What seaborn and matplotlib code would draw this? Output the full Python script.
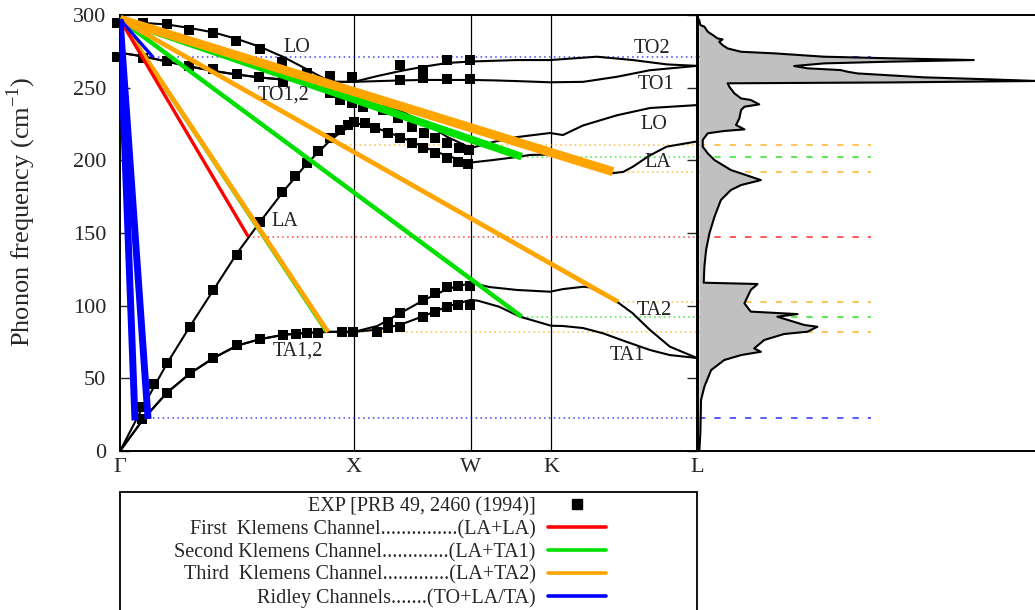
import matplotlib
matplotlib.use("Agg")
import matplotlib.pyplot as plt
import seaborn as sns
from matplotlib.lines import Line2D
from matplotlib.patches import Rectangle

# ---------------- data ----------------
kpoint_labels = ["Γ", "X", "W", "K", "L"]
kpoint_pos = [0.0, 1.0, 1.5, 1.842, 2.466]

q_gx = [0, 0.1, 0.2, 0.3, 0.4, 0.5, 0.6, 0.7, 0.8, 0.9, 1.0]

ta1_q = q_gx + [1.1, 1.2, 1.3, 1.4, 1.5, 1.53, 1.62, 1.71, 1.842, 1.893, 1.979, 2.064, 2.167, 2.265, 2.35, 2.466]
ta1_f = [0, 22, 40, 53.5, 64, 72.5, 77, 80, 81.3, 82, 82,
         83.5, 87, 93, 99.5, 104, 103.4, 99.3, 92.4, 86.2, 86, 84.6, 81, 75, 69.5, 66, 64]

ta2_q = q_gx + [1.1, 1.2, 1.3, 1.4, 1.5, 1.58, 1.697, 1.838, 1.893, 1.979, 2.009, 2.124, 2.19, 2.265, 2.35, 2.466]
ta2_f = [0, 22, 40, 53.5, 64, 72.5, 77, 80, 81.3, 82, 82,
         86, 95, 104, 111.5, 115.6, 112.8, 110.8, 109.6, 111.4, 113, 112.6, 102.7, 94.9, 83.3, 71.8, 64]

la_q = [0, 0.1, 0.2, 0.3, 0.4, 0.5, 0.6, 0.7, 0.8, 0.9, 0.95, 1.0, 1.05, 1.1, 1.2, 1.3, 1.4, 1.5,
        1.594, 1.697, 1.752, 1.842, 1.952, 2.094, 2.15, 2.192, 2.26, 2.336, 2.466]
la_f = [0, 31, 60, 86, 111, 136, 158, 179, 198, 214, 220, 225, 225, 222, 216, 209, 203, 198.5,
        200.2, 202.3, 203.7, 204, 198, 191, 192, 195.6, 203, 209.4, 213]

lo_q = q_gx + [1.1, 1.2, 1.3, 1.4, 1.5, 1.594, 1.697, 1.838, 1.893, 1.979, 2.124, 2.265, 2.466]
lo_f = [295, 294.5, 293.5, 291, 288, 283.5, 278, 271, 262.5, 254, 247,
        240.5, 234, 226, 216, 208.5, 212.6, 216, 218.8, 217.4, 224, 231, 236, 238]

to1_q = q_gx + [1.1, 1.2, 1.3, 1.4, 1.5, 1.6, 1.7, 1.838, 1.979, 2.124, 2.265, 2.466]
to1_f = [274, 271.5, 268, 264.5, 261.5, 259, 257, 255.5, 254.5, 254, 254,
         254.5, 255, 255.3, 255.3, 255.3, 255, 254.5, 253.7, 254, 257.5, 262, 265]

to2_q = q_gx + [1.1, 1.2, 1.3, 1.4, 1.5, 1.697, 1.838, 2.038, 2.192, 2.338, 2.466]
to2_f = [274, 271.5, 268, 264.5, 261.5, 259, 257, 255.5, 254.5, 254, 254,
         258, 261.5, 264.5, 267, 268, 269, 269, 271.3, 269, 266, 265]

# experimental points (PRB 49, 2460 (1994))
exp_q = [-0.012, 0.098, 0.2, 0.296, 0.399, 0.496, 0.598, 0.691, 0.800, 0.897, 0.99,          # LO
         -0.012, 0.1, 0.2, 0.297, 0.398, 0.498, 0.596, 0.698,                                  # TO
         0.897, 0.94, 0.99, 1.038, 1.124, 1.188, 1.25, 1.299, 1.348, 1.398, 1.447, 1.49,   # LO X-W
         0.095, 0.199, 0.299, 0.399, 0.499, 0.598, 0.695, 0.752, 0.798, 0.848, 0.947, 0.997,  # TA
         1.097, 1.147, 1.197, 1.296, 1.347, 1.396, 1.446, 1.496,                          # TA1 X-W
         1.147, 1.197, 1.296, 1.347, 1.396, 1.446, 1.496,                                 # TA2 X-W
         0.093, 0.147, 0.2, 0.299, 0.399, 0.499, 0.598, 0.691, 0.748, 0.798, 0.847, 0.897, 0.94, 0.974,  # LA
         1.0, 1.047, 1.09, 1.147, 1.197, 1.247, 1.296, 1.346, 1.396, 1.446, 1.488,        # LA X-W
         1.197, 1.296, 1.396, 1.496, 1.197, 1.296, 1.396, 1.496]                          # TO X-W
exp_f = [294.5, 294.4, 293.8, 289.7, 287.4, 281.9, 276.4, 267.9, 259.9, 258.0, 257.1,
         271.3, 270.2, 268.3, 265, 262.6, 259.4, 257.1, 254.1,
         246.1, 241.5, 239.2, 237, 234.6, 228.9, 223.2, 218.6, 215.2, 211.7, 208.3, 207,
         21.8, 39.7, 53.5, 64.2, 72.9, 76.9, 79.8, 80.5, 81.4, 81.4, 81.7, 81.7,
         82, 84.4, 85.5, 92.4, 95.9, 99.3, 100.3, 100.3,
         89, 94.7, 103.9, 108.5, 112.6, 113.5, 113.5,
         30.5, 46.1, 60.3, 85.5, 110.8, 134.9, 157.8, 178.4, 189.2, 198, 206.6, 215.2, 220.9, 224.3,
         226.6, 225.5, 222, 218.6, 215.2, 211.7, 208.3, 204.8, 201.8, 198.6, 197.3,
         255.3, 256.4, 256, 256, 265.6, 262.2, 269, 269]

# decay channels: lines from the zone-centre optical mode to the final state
chan_start_f = 297
red_end_q, red_end_f = [0.548], [147.5]
green_end_q, green_end_f = [0.883, 1.717, 1.717], [82.1, 92.4, 202.5]
orange_end_q, orange_end_f = [0.889, 2.128, 2.107], [81.9, 102.7, 192.2]
blue_end_q, blue_end_f = [0.064, 0.12, 0.141], [21, 22, 271]

# horizontal guide levels (frequency, starting q, colour)
guide_f = [271.3, 210.5, 202.5, 192.2, 147.5, 102.7, 92.4, 81.9, 22.5]
guide_q0 = [0.141, 0.96, 1.717, 2.107, 0.548, 2.128, 1.717, 0.889, 0.12]
guide_c = ["blue", "orange", "green", "orange", "red", "orange", "green", "orange", "blue"]

# phonon density of states
dos_f = [297, 293.1, 292.0, 288.5, 286.2, 283.9, 283.2, 281.6, 279.3, 277.0, 274.7, 273.6, 271.3, 270.2,
         269.0, 267.9, 266.7, 264.9, 263.3, 262.1, 261.0, 259.8, 257.1, 255.7, 254.6, 253.6, 253.0,
         250.7, 246.1, 242.6, 241.5, 238.5, 236.9, 234.6, 228.9, 224.3, 221.3, 220.2, 218.6, 214.0,
         209.4, 204.8, 200.2, 193.3, 191.0, 186.4, 183.0, 179.6, 172.7, 161.2, 149.8, 138.3, 126.8,
         115.8, 114.9, 110.8, 101.6, 95.9, 94.2, 92.4, 86.7, 85.5, 82.1, 80.5, 76.4, 70.6, 68.3, 66.0,
         62.6, 55.7, 44.3, 35.1, 12.2, 0.7]
dos_v = [0, 0.4, 1.6, 2.6, 4.1, 5.5, 7.0, 6.0, 7.0, 8.5, 12.5, 22.4, 37.2, 57.0,
         81.7, 57.0, 37.2, 28.3, 32.3, 42.1, 44.1, 47.1, 66.9, 86.7, 100.5, 57.0, 8.5,
         9.0, 10.5, 12.5, 15.4, 17.9, 13.5, 12.5, 12.0, 11.0, 13.5, 7.5, 2.6, 1.1,
         1.1, 2.6, 4.6, 9.5, 12.5, 18.4, 12.5, 9.5, 6.5, 4.6, 3.1, 2.1, 1.6,
         1.4, 17.4, 15.4, 13.5, 15.4, 29.3, 23.3, 31.3, 35.2, 32.3, 25.3, 19.4, 16.4, 18.4, 12.5,
         7.5, 3.6, 1.6, 0.6, 0.4, 0.1]

branch_labels = ["LO", "TO1,2", "LA", "TA1,2", "TO2", "TO1", "LO", "LA", "TA2", "TA1"]
branch_lab_q = [0.754, 0.698, 0.705, 0.76, 2.272, 2.29, 2.28, 2.30, 2.282, 2.169]
branch_lab_f = [277.6, 245, 158, 69, 277, 252.2, 224.7, 198.2, 96.7, 65.7]

legend_labels = ["EXP [PRB 49, 2460 (1994)]",
                 "First  Klemens Channel...............(LA+LA)",
                 "Second Klemens Channel.............(LA+TA1)",
                 "Third  Klemens Channel.............(LA+TA2)",
                 "Ridley Channels.......(TO+LA/TA)"]

# ---------------- style ----------------
sns.set_style("white")
plt.rcParams["font.family"] = ["Liberation Serif", "DejaVu Serif"]
plt.rcParams["mathtext.fontset"] = "custom"
plt.rcParams["mathtext.rm"] = "Liberation Serif"

COL = {"red": "#ff0000", "green": "#00e000", "orange": "#ffa500", "blue": "#0000ff"}

W, H = 1035, 610
fig = plt.figure(figsize=(W / 100, H / 100), dpi=100)
ax = fig.add_axes([120 / W, 1 - 451 / H, 577 / W, 436 / H])
ax2 = fig.add_axes([698 / W, 1 - 451 / H, 339 / W, 436 / H])

# vertical lines at high-symmetry points
for p in kpoint_pos[1:-1]:
    ax.axvline(p, color="black", lw=0.9, zorder=1)

# guide lines
for f, q0, c in zip(guide_f, guide_q0, guide_c):
    ax.plot([q0, kpoint_pos[-1]], [f, f], color=COL[c], lw=1.1, ls=(0, (1, 2.2)), alpha=0.75, zorder=2)
    ax2.plot([0, 51], [f, f], color=COL[c], lw=1.3, ls=(0, (3.5, 5)), alpha=0.7, zorder=1)

# dispersion branches
for qq, ff in [(ta1_q, ta1_f), (ta2_q, ta2_f), (la_q, la_f), (lo_q, lo_f), (to1_q, to1_f), (to2_q, to2_f)]:
    sns.lineplot(x=qq, y=ff, ax=ax, color="black", lw=1.5, sort=False, estimator=None, zorder=3)

# experiment
sns.scatterplot(x=exp_q, y=exp_f, ax=ax, marker="s", color="black", s=48, linewidth=0, zorder=4, clip_on=False)

# channel lines
def chan(qe, fe, c, lws):
    for q, f, lw in zip(qe, fe, lws):
        ax.plot([0, q], [chan_start_f, f], color=COL[c], lw=lw, solid_capstyle="butt", zorder=5)

chan(green_end_q, green_end_f, "green", [3.0, 3.2, 5.5])
chan(orange_end_q, orange_end_f, "orange", [3.4, 3.4, 6.5])
chan(red_end_q, red_end_f, "red", [2.4])
chan(blue_end_q, blue_end_f, "blue", [5.0, 5.0, 2.4])

# branch labels
for t, q, f in zip(branch_labels, branch_lab_q, branch_lab_f):
    ax.text(q, f, t, ha="center", va="center", fontsize=14.5, color="#222222", zorder=6)

ax.set_xlim(kpoint_pos[0], kpoint_pos[-1])
ax.set_ylim(0, 300)
ax.set_xticks(kpoint_pos)
ax.set_xticklabels(kpoint_labels)
ax.set_yticks(range(0, 301, 50))
ax.tick_params(axis="y", direction="in", length=7, width=1.0, labelsize=16, pad=10, right=True, left=True)
ax.tick_params(axis="x", length=0, labelsize=16, pad=5)
ax.set_ylabel("Phonon frequency (cm$^{-1}$)", fontsize=19)
ax.yaxis.set_label_coords(-0.142, 0.548)
for s in ax.spines.values():
    s.set_linewidth(1.4)
    s.set_color("black")

# DOS panel
ax2.fill_betweenx(dos_f, 0, dos_v, color="#c0c0c0", zorder=2, lw=0)
ax2.plot(dos_v, dos_f, color="black", lw=1.5, zorder=3)
ax2.set_ylim(0, 300)
ax2.set_xlim(-0.3, 100.5)
ax2.set_xticks([])
ax2.set_yticks([])
for s in ax2.spines.values():
    s.set_linewidth(1.4)
    s.set_color("black")

# legend
handles = [Line2D([], [], marker="s", ls="none", color="black", ms=6.5),
           Line2D([], [], color=COL["red"], lw=2.6),
           Line2D([], [], color=COL["green"], lw=2.6),
           Line2D([], [], color=COL["orange"], lw=2.6),
           Line2D([], [], color=COL["blue"], lw=2.6)]
fig.legend(handles, legend_labels, loc="upper right", bbox_to_anchor=(606 / W, 1 - 497 / H),
           frameon=False, markerfirst=False, fontsize=14.5, handlelength=2.9, handletextpad=0.6,
           labelspacing=0.18, borderpad=0, borderaxespad=0)
fig.add_artist(Rectangle((120 / W, -0.05), 577 / W, (H - 492) / H + 0.05, transform=fig.transFigure,
                         fill=False, lw=1.3, ec="black", clip_on=False))

fig.savefig("out.png", dpi=100)
